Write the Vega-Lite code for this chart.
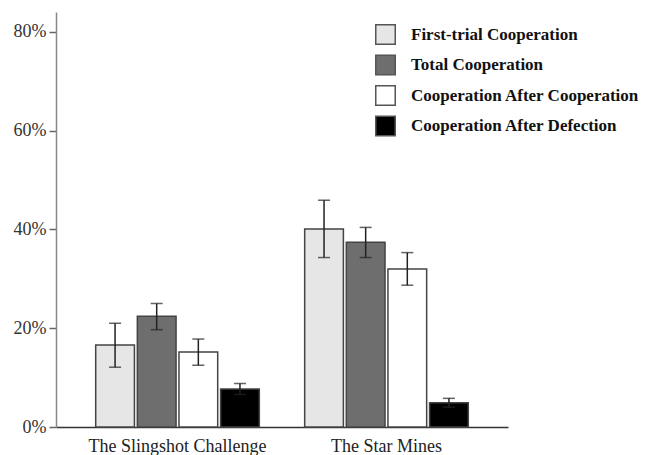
{
  "$schema": "https://vega.github.io/schema/vega-lite/v6.json",
  "width": 452,
  "height": 415,
  "autosize": "none",
  "padding": {"left": 56, "top": 12, "right": 138, "bottom": 28},
  "background": "white",
  "config": {
    "view": {"stroke": null},
    "font": "Liberation Serif"
  },
  "data": {
    "values": [
      {"game": "The Slingshot Challenge", "measure": "First-trial Cooperation", "value": 0.166, "lo": 0.121, "hi": 0.210},
      {"game": "The Slingshot Challenge", "measure": "Total Cooperation", "value": 0.224, "lo": 0.197, "hi": 0.250},
      {"game": "The Slingshot Challenge", "measure": "Cooperation After Cooperation", "value": 0.152, "lo": 0.125, "hi": 0.178},
      {"game": "The Slingshot Challenge", "measure": "Cooperation After Defection", "value": 0.077, "lo": 0.066, "hi": 0.088},
      {"game": "The Star Mines", "measure": "First-trial Cooperation", "value": 0.401, "lo": 0.343, "hi": 0.459},
      {"game": "The Star Mines", "measure": "Total Cooperation", "value": 0.374, "lo": 0.343, "hi": 0.404},
      {"game": "The Star Mines", "measure": "Cooperation After Cooperation", "value": 0.320, "lo": 0.287, "hi": 0.353},
      {"game": "The Star Mines", "measure": "Cooperation After Defection", "value": 0.049, "lo": 0.040, "hi": 0.058}
    ]
  },
  "encoding": {
    "x": {
      "field": "game", "type": "nominal",
      "scale": {"paddingInner": 0.217, "paddingOuter": 0.19},
      "axis": {
        "title": null, "labelAngle": 0, "ticks": false,
        "domainColor": "#333333", "domainWidth": 1.5,
        "labelFont": "Liberation Serif", "labelFontSize": 18, "labelColor": "#222222",
        "labelPadding": 10
      }
    },
    "xOffset": {
      "field": "measure", "type": "nominal",
      "sort": ["First-trial Cooperation", "Total Cooperation", "Cooperation After Cooperation", "Cooperation After Defection"],
      "scale": {"paddingInner": 0.07, "paddingOuter": 0}
    }
  },
  "layer": [
    {
      "mark": {"type": "bar", "stroke": "#444444", "strokeWidth": 1.5},
      "encoding": {
        "y": {
          "field": "value", "type": "quantitative",
          "scale": {"domain": [0, 0.84], "nice": false},
          "axis": {
            "title": null, "values": [0, 0.2, 0.4, 0.6, 0.8], "format": ".0%",
            "grid": false, "domainColor": "#888888", "domainWidth": 1.5,
            "tickColor": "#666666", "tickSize": 7, "tickWidth": 1.5,
            "labelFont": "Liberation Serif", "labelFontSize": 18, "labelColor": "#333333",
            "labelPadding": 3
          }
        },
        "color": {
          "field": "measure", "type": "nominal",
          "sort": ["First-trial Cooperation", "Total Cooperation", "Cooperation After Cooperation", "Cooperation After Defection"],
          "scale": {
            "domain": ["First-trial Cooperation", "Total Cooperation", "Cooperation After Cooperation", "Cooperation After Defection"],
            "range": ["#e6e6e6", "#6e6e6e", "#ffffff", "#000000"]
          },
          "legend": {
            "title": null, "orient": "none", "legendX": 319, "legendY": 12,
            "symbolType": "square", "symbolSize": 380,
            "symbolStrokeColor": "#555555", "symbolStrokeWidth": 1.5,
            "labelFont": "Liberation Serif", "labelFontWeight": "bold",
            "labelFontSize": 17, "labelColor": "#111111",
            "labelOffset": 15, "rowPadding": 3.5, "labelLimit": 400
          }
        }
      }
    },
    {
      "mark": {"type": "rule", "color": "#222222", "strokeWidth": 1.5},
      "encoding": {
        "y": {"field": "lo", "type": "quantitative"},
        "y2": {"field": "hi"}
      }
    },
    {
      "mark": {"type": "tick", "color": "#222222", "thickness": 1.5, "size": 12},
      "encoding": {
        "y": {"field": "lo", "type": "quantitative"}
      }
    },
    {
      "mark": {"type": "tick", "color": "#222222", "thickness": 1.5, "size": 12},
      "encoding": {
        "y": {"field": "hi", "type": "quantitative"}
      }
    }
  ]
}
